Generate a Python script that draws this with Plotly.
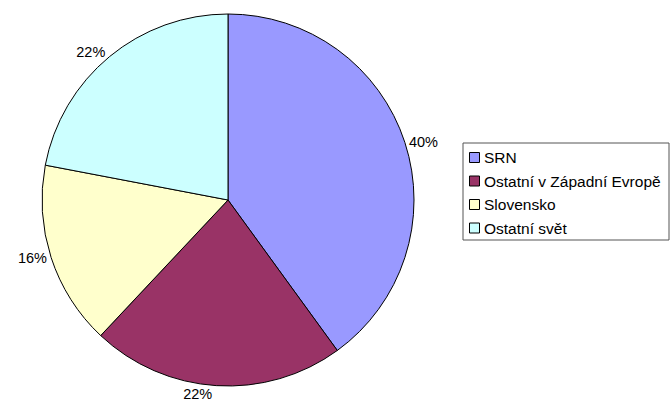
import plotly.graph_objects as go

# Share of exports by destination
categories = ["SRN", "Ostatní v Západní Evropě", "Slovensko", "Ostatní svět"]
shares = [40, 22, 16, 22]
colors = ["#9999FF", "#993366", "#FFFFCC", "#CCFFFF"]

W, H = 670, 412
FONT = "Liberation Sans, Arial, sans-serif"
cx, cy, r = 228, 200, 186  # pie centre and radius in pixels

fig = go.Figure(
    go.Pie(
        labels=categories,
        values=shares,
        sort=False,
        direction="clockwise",
        rotation=0,
        marker=dict(colors=colors, line=dict(color="black", width=1)),
        texttemplate="%{percent:.0%}",
        textposition="outside",
        outsidetextfont=dict(family=FONT, size=14.5, color="black"),
        domain=dict(
            x=[(cx - r) / W, (cx + r) / W],
            y=[1 - (cy + r) / H, 1 - (cy - r) / H],
        ),
        hoverinfo="label+percent",
        showlegend=False,
    )
)

# Legend box drawn in pixel space (paper coordinates converted from pixels)
def px(x):
    return x / W


def py(y):
    return 1 - y / H


box_left, box_right, box_top, box_bottom = 463, 669, 143, 240
fig.add_shape(
    type="rect", xref="paper", yref="paper",
    x0=px(box_left), x1=px(box_right), y0=py(box_bottom), y1=py(box_top),
    line=dict(color="#555555", width=1), fillcolor="white", layer="above",
)

row0, row_step, sq = 157.5, 23.5, 10
for i, (name, col) in enumerate(zip(categories, colors)):
    yc = row0 + i * row_step
    fig.add_shape(
        type="rect", xref="paper", yref="paper",
        x0=px(469.5), x1=px(469.5 + sq), y0=py(yc + sq / 2), y1=py(yc - sq / 2),
        line=dict(color="black", width=1), fillcolor=col, layer="above",
    )
    fig.add_annotation(
        xref="paper", yref="paper", x=px(482), y=py(yc),
        xanchor="left", yanchor="middle", showarrow=False,
        text=name, font=dict(family=FONT, size=15.5, color="black"),
    )

fig.update_layout(
    width=W,
    height=H,
    margin=dict(l=0, r=0, t=0, b=0),
    paper_bgcolor="white",
    plot_bgcolor="white",
    font=dict(family=FONT, size=14.5, color="black"),
    showlegend=False,
)

fig.write_html("out.html")
